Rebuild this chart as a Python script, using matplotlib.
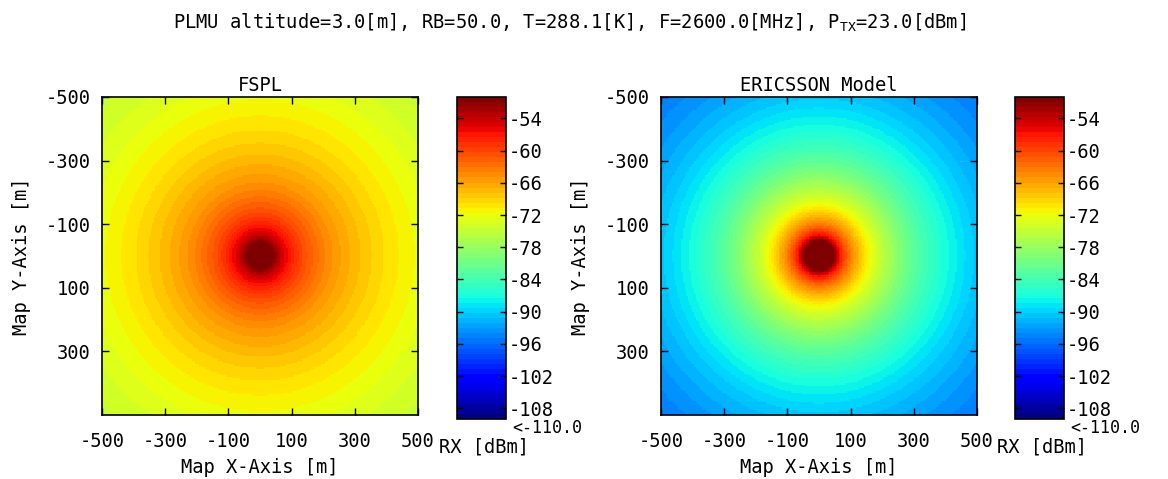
import numpy as np
import matplotlib
matplotlib.use('Agg')
import matplotlib.pyplot as plt

# radial RX profiles (distance from the PLMU in metres)
dist_m = [10, 30, 48, 63, 90, 120, 174, 230, 288, 400, 500, 600, 707]
rx_fspl = [-37.7, -47.3, -51.3, -53.7, -56.8, -59.3, -62.5, -65.0, -66.9, -69.8, -71.7, -73.3, -74.7]
rx_ericsson = [-30.0, -43.0, -50.0, -56.0, -62.0, -66.5, -73.0, -77.5, -81.5, -87.0, -90.5, -93.0, -95.0]

map_x = np.arange(-500, 501, 5)
map_y = np.arange(-500, 501, 5)
xticks = [-500, -300, -100, 100, 300, 500]
yticks = [-500, -300, -100, 100, 300]
cbar_ticks = [-54, -60, -66, -72, -78, -84, -90, -96, -102, -108]
rx_min, rx_max = -110.0, -50.0

plt.rcParams['font.family'] = ['DejaVu Sans Mono']
plt.rcParams['font.size'] = 13.5
plt.rcParams['axes.unicode_minus'] = False
plt.rcParams['mathtext.fontset'] = 'custom'
plt.rcParams['mathtext.rm'] = 'DejaVu Sans Mono'

X, Y = np.meshgrid(map_x, map_y)
R = np.hypot(X, Y)
logr = np.log10(np.maximum(R, dist_m[0]))


def rx_map(profile):
    return np.interp(logr, np.log10(dist_m), profile)


cmap = plt.get_cmap('jet', 64)
fig = plt.figure(figsize=(11.68, 4.79), dpi=100)

fig.text(0.488, 0.953, r'PLMU altitude=3.0[m], RB=50.0, T=288.1[K], F=2600.0[MHz], P$_{\rm TX}$=23.0[dBm]',
         ha='center', va='center', fontsize=13.5)

panels = [('FSPL', rx_fspl, 0.0873, 0.3913), ('ERICSSON Model', rx_ericsson, 0.5659, 0.8690)]
for title, profile, ax_left, cb_left in panels:
    ax = fig.add_axes([ax_left, 0.1336, 0.2705, 0.664])
    im = ax.imshow(rx_map(profile), cmap=cmap, vmin=rx_min, vmax=rx_max,
                   extent=(-500, 500, 500, -500), interpolation='nearest', aspect='auto')
    ax.set_xlim(-500, 500)
    ax.set_ylim(500, -500)
    ax.set_xticks(xticks)
    ax.set_yticks(yticks)
    ax.tick_params(direction='in', top=True, right=True, length=5, width=1)
    ax.tick_params(axis='x', pad=12)
    ax.tick_params(axis='y', pad=8)
    ax.set_title(title, fontsize=13.5, pad=4)
    ax.set_xlabel('Map X-Axis [m]', labelpad=5)
    ax.set_ylabel('Map Y-Axis [m]', labelpad=11)
    for s in ax.spines.values():
        s.set_linewidth(1.2)

    cax = fig.add_axes([cb_left, 0.1253, 0.042, 0.6722])
    cb = fig.colorbar(im, cax=cax, ticks=cbar_ticks)
    cax.tick_params(direction='in', left=True, right=True, length=4, width=1, pad=2)
    cb.outline.set_linewidth(1.2)
    cax.text(1.12, -0.028, '<-110.0', transform=cax.transAxes, ha='left', va='center', fontsize=12)
    cax.text(0.55, -0.058, 'RX [dBm]', transform=cax.transAxes, ha='center', va='top')

plt.savefig('out.png', dpi=100)
